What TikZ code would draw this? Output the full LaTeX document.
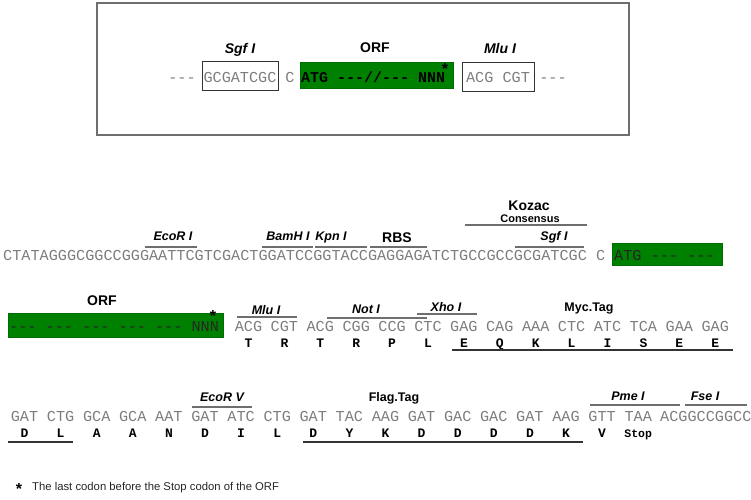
\documentclass[tikz,border=0pt]{standalone}
\usepackage{fontspec}
\setmainfont{Liberation Sans}
\setsansfont{Liberation Sans}
\newfontfamily\seqfont{Liberation Mono}
\definecolor{orfgreen}{RGB}{0,128,0}
\definecolor{seqgray}{RGB}{125,125,125}
\definecolor{linegray}{RGB}{110,110,110}
\newcommand\siteline[4]{%
  \coordinate (#1a) at (#2,#4);
  \coordinate (#1b) at (#3,#4);
  \draw[overline] (#1a) -- (#1b);}
\newcommand\aaline[4]{%
  \coordinate (#1a) at (#2,#4);
  \coordinate (#1b) at (#3,#4);
  \draw[underline] (#1a) -- (#1b);}
\begin{document}
\begin{tikzpicture}[x=1pt,y=-1pt,
  seq/.style={font=\seqfont\fontsize{15.2}{18}\selectfont, text=seqgray, inner sep=0pt, anchor=base},
  seqorf/.style={seq, text=black!85},
  seqbold/.style={font=\seqfont\bfseries\fontsize{15}{18}\selectfont, text=black, inner sep=0pt, anchor=base west},
  aa/.style={font=\seqfont\bfseries\fontsize{13}{15}\selectfont, inner sep=0pt, anchor=base},
  stopaa/.style={font=\seqfont\bfseries\fontsize{11.5}{14}\selectfont, inner sep=0pt, anchor=base},
  enz/.style={font=\bfseries\itshape\fontsize{12.5}{15}\selectfont, inner sep=0pt, anchor=base},
  enzbig/.style={font=\bfseries\itshape\fontsize{14}{16}\selectfont, inner sep=0pt, anchor=base},
  lbl/.style={font=\bfseries\fontsize{14}{16}\selectfont, inner sep=0pt, anchor=base},
  tag/.style={font=\bfseries\fontsize{12.5}{15}\selectfont, inner sep=0pt, anchor=base},
  starmark/.style={font=\bfseries\fontsize{16}{18}\selectfont, inner sep=0pt, anchor=base},
  overline/.style={draw=linegray, line width=1.4pt},
  underline/.style={draw=black!80, line width=1.4pt},
  orfbox/.style={fill=orfgreen, draw=orfgreen!85!black, line width=0.4pt},
  sitebox/.style={draw=black!80, line width=0.9pt}]
\useasboundingbox (0,0) rectangle (751,499);

% ---------- top box ----------
\draw[draw=linegray, line width=1.5pt] (97,3) rectangle (629,135);
\draw[sitebox] (202,61) rectangle (278,90);
\path[orfbox] (300,62) rectangle (453,88);
\draw[sitebox] (462,62) rectangle (534,91);
\node[seq] (tdash1) at (182,82) {---};
\node[seq] (tsgf) at (240,82) {GCGATCGC};
\node[seq] (tc) at (290,82) {C};
\node[seqbold] (torf) at (301,82) {ATG ---//--- NNN};
\node[starmark] (tstar) at (445,74.5) {*};
\node[seq] (tmlu) at (498,82) {ACG CGT};
\node[seq] (tdash2) at (553,82) {---};
\node[enzbig] (tsgfl) at (240,53) {Sgf I};
\node[lbl] (torfl) at (375,52) {ORF};
\node[enzbig] (tmlul) at (500,53) {Mlu I};

% ---------- row 1 ----------
\path[orfbox] (612,243) rectangle (722,265);
\node[seq, anchor=base west] (r1seq) at (3,260) {CTATAGGGCGGCCGGGAATTCGTCGACTGGATCCGGTACCGAGGAGATCTGCCGCCGCGATCGC C};
\node[seqorf, anchor=base west] (r1orf) at (614,260) {ATG --- ---};
\siteline{eco}{145}{197}{247}
\siteline{bam}{262}{313}{247}
\siteline{kpn}{315}{367}{247}
\siteline{rbs}{370}{427}{247}
\siteline{sgf}{515}{584}{247}
\siteline{koz}{465}{587}{225}
\node[enz] (ecol) at (173,240) {EcoR I};
\node[enz] (baml) at (288,240) {BamH I};
\node[enz] (kpnl) at (331,240) {Kpn I};
\node[lbl] (rbsl) at (397,242) {RBS};
\node[enz] (sgfl) at (554,240) {Sgf I};
\node[lbl] (kozl) at (529,210) {Kozac};
\node[font=\bfseries\fontsize{11}{12}\selectfont, inner sep=0pt, anchor=base] (consl) at (530,222) {Consensus};

% ---------- row 2 ----------
\path[orfbox] (8,313) rectangle (223,337);
\node[seqorf, anchor=base west] (r2orf) at (9,331) {--- --- --- --- --- NNN};
\node[starmark] (r2star) at (213,321) {*};
\node[lbl] (r2orfl) at (102,305) {ORF};
\foreach \cod/\am [count=\i from 0] in {ACG/T,CGT/R,ACG/T,CGG/R,CCG/P,CTC/L,GAG/E,CAG/Q,AAA/K,CTC/L,ATC/I,TCA/S,GAA/E,GAG/E}{
  \node[seq] (r2c\i) at ({248.5+35.9*\i},331) {\cod};
  \node[aa] (r2a\i) at ({248.5+35.9*\i},347) {\am};
}
\siteline{mlu}{237}{297}{317}
\siteline{not}{327}{427}{318}
\siteline{xho}{417}{477}{314}
\aaline{myc}{452}{733}{350}
\node[enz] (mlul) at (266,314) {Mlu I};
\node[enz] (notl) at (366,313) {Not I};
\node[enz] (xhol) at (446,311) {Xho I};
\node[tag] (mycl) at (589,311) {Myc.Tag};

% ---------- row 3 ----------
\foreach \cod/\am [count=\i from 0] in {GAT/D,CTG/L,GCA/A,GCA/A,AAT/N,GAT/D,ATC/I,CTG/L,GAT/D,TAC/Y,AAG/K,GAT/D,GAC/D,GAC/D,GAT/D,AAG/K,GTT/V}{
  \node[seq] (r3c\i) at ({24.5+36.1*\i},421) {\cod};
  \node[aa] (r3a\i) at ({24.5+36.1*\i},437) {\am};
}
\node[seq] (r3c17) at ({24.5+36.1*17},421) {TAA};
\node[stopaa] (r3a17) at ({24.5+36.1*17},437) {Stop};
\node[seq, anchor=base west] (r3end) at (660,421) {ACGGCCGGCC};
\siteline{ecov}{192}{252}{407}
\siteline{pme}{590}{680}{405}
\siteline{fse}{685}{747}{405}
\aaline{dl}{8}{73}{442}
\aaline{flag}{303}{583}{442}
\node[enz] (ecovl) at (222,401) {EcoR V};
\node[tag] (flagl) at (394,401) {Flag.Tag};
\node[enz] (pmel) at (628,400) {Pme I};
\node[enz] (fsel) at (705,400) {Fse I};

% ---------- footnote ----------
\node[starmark] (fstar) at (19,494) {*};
\node[font=\fontsize{11.3}{13}\selectfont, text=black!85, inner sep=0pt, anchor=base west] (fnote) at (32,490) {The last codon before the Stop codon of the ORF};
\end{tikzpicture}
\end{document}
